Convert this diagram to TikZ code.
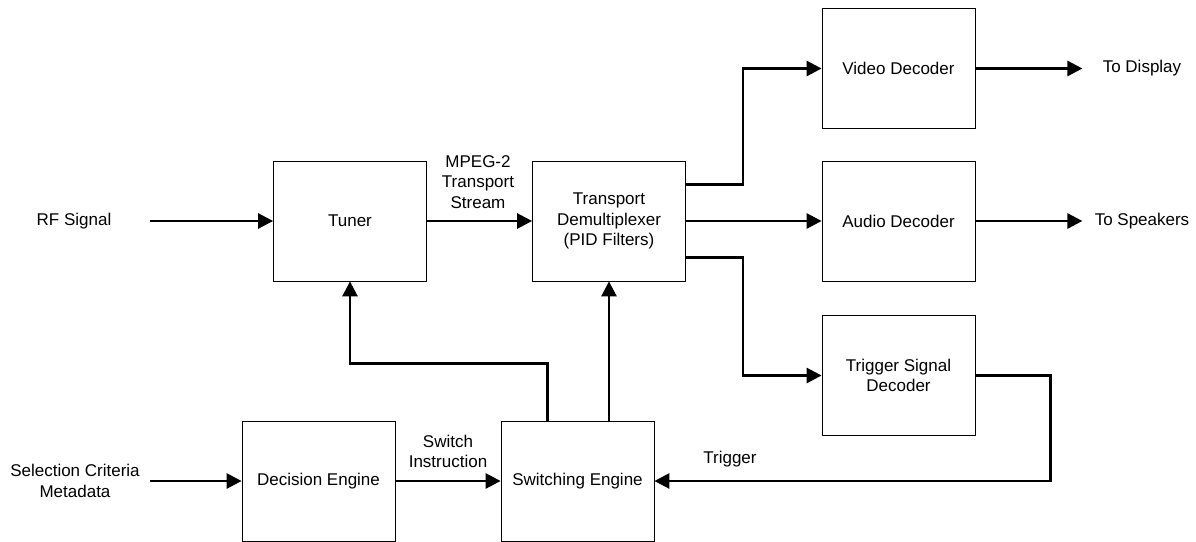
\documentclass[tikz,border=0pt]{standalone}
\usepackage{fontspec}
\setmainfont{Liberation Sans}
\usetikzlibrary{arrows.meta,calc}
\begin{document}
\begin{tikzpicture}[x=1pt,y=-1pt,
  block/.style={draw,line width=0.8pt,minimum width=153pt,minimum height=120pt,inner sep=0pt,align=center},
  flow/.style={line width=2.7pt,-{Triangle[length=15pt,width=15pt]}},
  txt/.style={align=center,inner sep=0pt}]
\useasboundingbox (0,0) rectangle (1196,541);
\fontsize{17}{20.5}\selectfont
% boxes
\node[block] (tuner) at (350,221) {Tuner};
\node[block] (demux) at (609,221) {Transport\\Demultiplexer\\(PID Filters)};
\node[block] (video) at (898.5,68.5) {Video Decoder};
\node[block] (audio) at (898.5,221) {Audio Decoder};
\node[block] (trig) at (898.5,375.5) {Trigger Signal\\Decoder};
\node[block] (decide) at (318.5,481) {Decision Engine};
\node[block] (switch) at (577.5,481) {Switching Engine};
% texts
\node[txt] (rf) at (74,221) {RF Signal};
\node[txt] (sel) at (75,481) {Selection Criteria\\Metadata};
\node[txt] (disp) at (1142,68.5) {To Display};
\node[txt] (spk) at (1142,221) {To Speakers};
\node[txt] (mpeg) at (478,182) {MPEG-2\\Transport\\Stream};
\node[txt] (swins) at (448,451.5) {Switch\\Instruction};
\node[txt] (trg) at (730,459) {Trigger};
% connectors
\draw[flow] ([xshift=76pt]rf.center) -- (tuner.west);
\draw[flow] (tuner.east) -- (demux.west);
\draw[flow] ($(demux.north east)!0.2!(demux.south east)$) -- ++(57,0) |- (video.west);
\draw[flow] (demux.east) -- (audio.west);
\draw[flow] ($(demux.north east)!0.8!(demux.south east)$) -- ++(57,0) |- (trig.west);
\draw[flow] (video.east) -- ++(107,0);
\draw[flow] (audio.east) -- ++(107,0);
\draw[flow] (trig.east) -- ++(75,0) |- (switch.east);
\draw[flow] ([xshift=75pt]sel.center) -- (decide.west);
\draw[flow] (decide.east) -- (switch.west);
\draw[flow] ([xshift=-30pt]switch.north) |- ($(tuner.south)+(0,82)$) -- (tuner.south);
\draw[flow] (switch.north -| demux.south) -- (demux.south);
\end{tikzpicture}
\end{document}
